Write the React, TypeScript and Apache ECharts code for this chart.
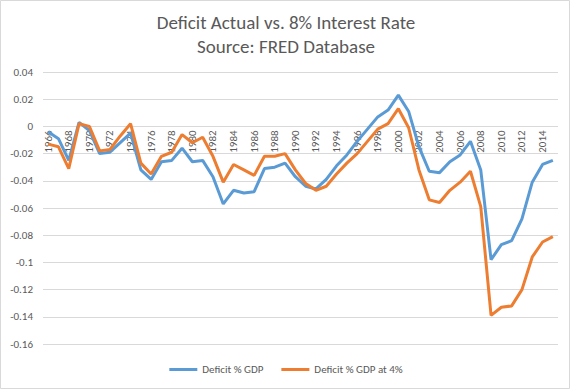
import React, { useEffect, useRef } from "react";
import * as echarts from "echarts";

const years = [
  "1966", "1967", "1968", "1969", "1970", "1971", "1972", "1973", "1974", "1975",
  "1976", "1977", "1978", "1979", "1980", "1981", "1982", "1983", "1984", "1985",
  "1986", "1987", "1988", "1989", "1990", "1991", "1992", "1993", "1994", "1995",
  "1996", "1997", "1998", "1999", "2000", "2001", "2002", "2003", "2004", "2005",
  "2006", "2007", "2008", "2009", "2010", "2011", "2012", "2013", "2014", "2015",
];

const deficitGDP = [
  -0.004, -0.009, -0.025, 0.003, -0.003, -0.02, -0.019, -0.012, -0.005, -0.032,
  -0.039, -0.026, -0.025, -0.016, -0.026, -0.025, -0.037, -0.057, -0.047, -0.049,
  -0.048, -0.031, -0.03, -0.027, -0.037, -0.044, -0.046, -0.039, -0.029, -0.021,
  -0.011, -0.002, 0.007, 0.012, 0.023, 0.011, -0.015, -0.033, -0.034, -0.026,
  -0.021, -0.011, -0.032, -0.098, -0.087, -0.084, -0.068, -0.041, -0.028, -0.025,
];

const deficitGDPAt4 = [
  -0.013, -0.015, -0.031, 0.002, 0.0, -0.018, -0.017, -0.007, 0.002, -0.027,
  -0.035, -0.022, -0.019, -0.006, -0.012, -0.008, -0.022, -0.041, -0.028, -0.032,
  -0.036, -0.022, -0.022, -0.02, -0.032, -0.042, -0.047, -0.044, -0.035, -0.027,
  -0.02, -0.011, -0.002, 0.002, 0.013, -0.001, -0.032, -0.054, -0.056, -0.047,
  -0.041, -0.033, -0.059, -0.139, -0.133, -0.132, -0.12, -0.096, -0.085, -0.081,
];

const seriesNames = ["Deficit % GDP", "Deficit % GDP at 4%"];
const titleLines = ["Deficit Actual vs. 8% Interest Rate", "Source: FRED Database"];

const Y_MIN = -0.16;
const Y_MAX = 0.04;
const Y_STEP = 0.02;

const FONT = "Carlito, Lato, 'Open Sans', sans-serif";
const TEXT = "#595959";
const GRID = "#D9D9D9";

const GRID_TOP = 72;
const GRID_BOTTOM = 46;
const CHART_H = 390;

export default function App() {
  const ref = useRef<HTMLDivElement>(null);

  useEffect(() => {
    if (!ref.current) return;
    const chart = echarts.init(ref.current, null, { renderer: "svg" });
    const plotH = CHART_H - GRID_TOP - GRID_BOTTOM;
    // place the category axis where the value axis crosses zero
    const zeroOffset = -(plotH * (0 - Y_MIN)) / (Y_MAX - Y_MIN);
    chart.setOption({
      animation: false,
      backgroundColor: "#ffffff",
      textStyle: { fontFamily: FONT },
      title: {
        text: titleLines.join("\n"),
        left: "center",
        top: 5,
        textStyle: {
          fontFamily: FONT,
          fontSize: 19,
          fontWeight: "normal",
          color: TEXT,
          lineHeight: 24,
        },
      },
      graphic: [
        {
          type: "rect",
          shape: { x: 0.5, y: 0.5, width: 569, height: 388 },
          style: { fill: "none", stroke: GRID, lineWidth: 1 },
          silent: true,
        },
      ],
      legend: {
        data: seriesNames,
        bottom: 10,
        left: "center",
        icon: "rect",
        itemWidth: 28,
        itemHeight: 3,
        itemGap: 18,
        textStyle: { fontFamily: FONT, fontSize: 11, color: TEXT },
      },
      grid: { left: 43, right: 14, top: GRID_TOP, bottom: GRID_BOTTOM },
      xAxis: {
        type: "category",
        data: years,
        boundaryGap: true,
        position: "bottom",
        offset: zeroOffset,
        axisLine: { show: false, onZero: false },
        axisTick: { show: false },
        axisLabel: {
          interval: 1,
          rotate: 90,
          margin: 4,
          fontFamily: FONT,
          fontSize: 11,
          color: TEXT,
        },
        splitLine: { show: false },
      },
      yAxis: {
        type: "value",
        min: Y_MIN,
        max: Y_MAX,
        interval: Y_STEP,
        axisLine: { show: false },
        axisTick: { show: false },
        axisLabel: {
          margin: 10,
          fontFamily: FONT,
          fontSize: 11,
          color: TEXT,
          formatter: (v: number) => String(+v.toFixed(2)),
        },
        splitLine: { lineStyle: { color: GRID, width: 1 } },
      },
      series: [
        {
          name: seriesNames[0],
          type: "line",
          data: deficitGDP,
          symbol: "none",
          color: "#5B9BD5",
          lineStyle: { width: 3, color: "#5B9BD5" },
        },
        {
          name: seriesNames[1],
          type: "line",
          data: deficitGDPAt4,
          symbol: "none",
          color: "#ED7D31",
          lineStyle: { width: 3, color: "#ED7D31" },
        },
      ],
    });
    return () => chart.dispose();
  }, []);

  return (
    <div
      ref={ref}
      style={{ position: "absolute", left: 0, top: 0, width: 572, height: 390 }}
    />
  );
}
